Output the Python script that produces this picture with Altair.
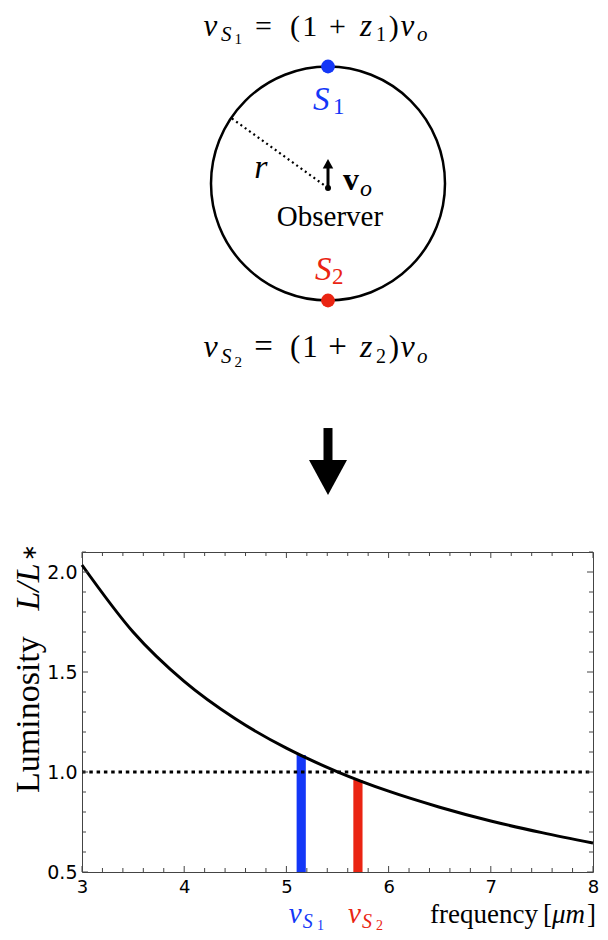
import altair as alt
import pandas as pd

# ---------------- chart data ----------------
freq = [3.0, 3.5, 4.0, 4.5, 5.0, 5.5, 6.0, 6.5, 7.0, 7.5, 8.0]
lum = [2.035, 1.70, 1.453, 1.266, 1.119, 1.001, 0.904, 0.824, 0.755, 0.697, 0.645]
ref_level = [1.0]
band_names = ["S1", "S2"]
band_lo = [5.10, 5.655]
band_hi = [5.19, 5.745]
band_top = [1.085, 0.96]
BLUE = "#1437f7"
RED = "#ea2412"
band_colors = [BLUE, RED]

x_major = [3, 4, 5, 6, 7, 8]
x_minor = [3.2, 3.4, 3.6, 3.8, 4.2, 4.4, 4.6, 4.8, 5.2, 5.4, 5.6, 5.8,
           6.2, 6.4, 6.6, 6.8, 7.2, 7.4, 7.6, 7.8]
y_major = [0.5, 1.0, 1.5, 2.0]
y_minor = [0.6, 0.7, 0.8, 0.9, 1.1, 1.2, 1.3, 1.4, 1.6, 1.7, 1.8, 1.9, 2.1]

X_DOM = [3, 8]
Y_DOM = [0.5, 2.1]
W, H = 511, 320
PAD_L, PAD_T = 74, 544

X = alt.Scale(domain=X_DOM, nice=False, zero=False)
Y = alt.Scale(domain=Y_DOM, nice=False, zero=False)

xaxis = alt.Axis(values=x_major, format="d", title=None, ticks=False, tickSize=0,
                 domain=False, grid=False, labelFont="DejaVu Sans",
                 labelFontSize=18, labelColor="black", labelPadding=6,
                 labelFlush=False)
yaxis = alt.Axis(values=y_major, format=".1f", title=None, ticks=False, tickSize=0,
                 domain=False, grid=False, labelFont="DejaVu Sans",
                 labelFontSize=19, labelColor="black", labelPadding=5)

df_curve = pd.DataFrame({"f": freq, "L": lum})
df_bands = pd.DataFrame({"name": band_names, "lo": band_lo, "hi": band_hi,
                         "top": band_top, "color": band_colors})
df_ref = pd.DataFrame({"y": ref_level, "x0": [X_DOM[0]], "x1": [X_DOM[1]]})

# inward frame ticks
px_x = (X_DOM[1] - X_DOM[0]) / W
px_y = (Y_DOM[1] - Y_DOM[0]) / H
rows = []
for t in x_major:
    rows.append({"x": t, "y": Y_DOM[0], "y2": Y_DOM[0] + 6 * px_y})
    rows.append({"x": t, "y": Y_DOM[1], "y2": Y_DOM[1] - 6 * px_y})
for t in x_minor:
    rows.append({"x": t, "y": Y_DOM[0], "y2": Y_DOM[0] + 4 * px_y})
    rows.append({"x": t, "y": Y_DOM[1], "y2": Y_DOM[1] - 4 * px_y})
df_xt = pd.DataFrame(rows)
rows = []
for t in y_major:
    rows.append({"y": t, "x": X_DOM[0], "x2": X_DOM[0] + 6 * px_x})
    rows.append({"y": t, "x": X_DOM[1], "x2": X_DOM[1] - 6 * px_x})
for t in y_minor:
    rows.append({"y": t, "x": X_DOM[0], "x2": X_DOM[0] + 4 * px_x})
    rows.append({"y": t, "x": X_DOM[1], "x2": X_DOM[1] - 4 * px_x})
df_yt = pd.DataFrame(rows)

bars = alt.Chart(df_bands).mark_bar(opacity=1).encode(
    x=alt.X("lo:Q", scale=X, axis=xaxis), x2="hi:Q",
    y=alt.Y("top:Q", scale=Y, axis=yaxis), y2=alt.datum(Y_DOM[0]),
    color=alt.Color("color:N", scale=None),
)
ref = alt.Chart(df_ref).mark_rule(color="black", strokeWidth=3.2,
                                  strokeDash=[3.5, 3.8]).encode(
    x=alt.X("x0:Q", scale=X, axis=xaxis), x2="x1:Q",
    y=alt.Y("y:Q", scale=Y, axis=yaxis),
)
curve = alt.Chart(df_curve).mark_line(color="black", strokeWidth=3,
                                      interpolate="monotone").encode(
    x=alt.X("f:Q", scale=X, axis=xaxis),
    y=alt.Y("L:Q", scale=Y, axis=yaxis),
)
xt = alt.Chart(df_xt).mark_rule(color="#444", strokeWidth=1).encode(
    x=alt.X("x:Q", scale=X, axis=xaxis),
    y=alt.Y("y:Q", scale=Y, axis=yaxis), y2="y2:Q",
)
yt = alt.Chart(df_yt).mark_rule(color="#444", strokeWidth=1).encode(
    x=alt.X("x:Q", scale=X, axis=xaxis), x2="x2:Q",
    y=alt.Y("y:Q", scale=Y, axis=yaxis),
)
plot = alt.layer(bars, ref, curve, xt, yt)

# ---------------- schematic (unit circle coordinates, radius = 1) ----------------
R_PX = 117
CX = 328 - 8 - PAD_L
CY = 183.5 - 8 - PAD_T
DX = alt.Scale(domain=[-1, 1], range=[CX - R_PX, CX + R_PX], nice=False, zero=False)
DY = alt.Scale(domain=[-1, 1], range=[CY + R_PX, CY - R_PX], nice=False, zero=False)


def enc(ch, **kw):
    return ch.encode(x=alt.X("u:Q", scale=DX, axis=None),
                     y=alt.Y("v:Q", scale=DY, axis=None), **kw)


ring = enc(alt.Chart(pd.DataFrame({"u": [0.0], "v": [0.0]})).mark_point(
    shape="circle", size=(2 * R_PX) ** 2, filled=False, color="black",
    strokeWidth=2.5, opacity=1))

src_u = [0.0, 0.0]
src_v = [1.0, -1.0]
sources = enc(alt.Chart(pd.DataFrame({"u": src_u, "v": src_v,
                                      "c": [BLUE, RED]})).mark_point(
    shape="circle", size=190, filled=True, opacity=1, strokeWidth=0),
    color=alt.Color("c:N", scale=None))

obs_u, obs_v = [0.0], [-0.038]
observer = enc(alt.Chart(pd.DataFrame({"u": obs_u, "v": obs_v})).mark_point(
    shape="circle", size=36, filled=True, color="black", opacity=1, strokeWidth=0))

radius = alt.Chart(pd.DataFrame({"u": obs_u, "v": obs_v, "u2": [-0.823],
                                 "v2": [0.557]})).mark_rule(
    color="black", strokeWidth=2.2, strokeDash=[2, 3.3]).encode(
    x=alt.X("u:Q", scale=DX, axis=None), x2="u2:Q",
    y=alt.Y("v:Q", scale=DY, axis=None), y2="v2:Q")

vel_shaft = alt.Chart(pd.DataFrame({"u": [0.0], "v": obs_v, "v2": [0.15]})).mark_rule(
    color="black", strokeWidth=3).encode(
    x=alt.X("u:Q", scale=DX, axis=None),
    y=alt.Y("v:Q", scale=DY, axis=None), y2="v2:Q")
vel_head = enc(alt.Chart(pd.DataFrame({"u": [0.0], "v": [0.169]})).mark_point(
    shape="M-1,0.9L1,0.9L0,-0.9Z", size=110, filled=True, color="black",
    opacity=1, strokeWidth=0))

big_shaft = alt.Chart(pd.DataFrame({"u": [0.0], "v": [-2.09], "v2": [-2.40]})).mark_rule(
    color="black", strokeWidth=9, strokeCap="butt").encode(
    x=alt.X("u:Q", scale=DX, axis=None),
    y=alt.Y("v:Q", scale=DY, axis=None), y2="v2:Q")
big_head = enc(alt.Chart(pd.DataFrame({"u": [0.0], "v": [-2.513]})).mark_point(
    shape="M-1,-0.92L1,-0.92L0,0.92Z", size=38 ** 2, filled=True, color="black",
    opacity=1, strokeWidth=0))

# text pieces: (text, u, v, size, style, color, align, angle)
K = "black"
top_m, top_s, top_ss = 1.261, 1.218, 1.192
bot_m, bot_s, bot_ss = -1.483, -1.534, -1.568
pieces = []
for (m, s, ss, d, sz, op) in [(top_m, top_s, top_ss, "1", 30, 30),
                              (bot_m, bot_s, bot_ss, "2", 31, 33)]:
    pieces += [
        ("ν", -1.065, m, sz + 1, "italic", K, "left", 0),
        ("S", -0.915, s, 21, "italic", K, "left", 0),
        (d, -0.800, ss, 15, "normal", K, "left", 0),
        ("=", -0.551, m, op, "normal", K, "center", 0),
        ("(", -0.325, m, sz, "normal", K, "left", 0),
        ("1", -0.220, m, sz, "normal", K, "left", 0),
        ("+", 0.081, m, op, "normal", K, "center", 0),
        ("z", 0.274, m, sz + 1, "italic", K, "left", 0),
        (d, 0.410, s, 20, "normal", K, "left", 0),
        (")", 0.520, m, sz, "normal", K, "left", 0),
        ("ν", 0.620, m, sz + 1, "italic", K, "left", 0),
        ("o", 0.760, s, 21, "italic", K, "left", 0),
    ]
bl_m, bl_s, bl_ss = -6.320, -6.363, -6.380
pieces += [
    ("S", -0.128, 0.628, 33, "italic", BLUE, "left", 0),
    ("1", 0.043, 0.594, 23, "normal", BLUE, "left", 0),
    ("S", -0.111, -0.825, 33, "italic", RED, "left", 0),
    ("2", 0.034, -0.859, 23, "normal", RED, "left", 0),
    ("r", -0.573, 0.047, 34, "italic", K, "center", 0),
    ("o", 0.274, -0.107, 24, "italic", K, "left", 0),
    ("Observer", 0.017, -0.363, 29, "normal", K, "center", 0),
    ("ν", -0.335, bl_m, 29, "italic", BLUE, "left", 0),
    ("S", -0.215, bl_s, 20, "italic", BLUE, "left", 0),
    ("1", -0.095, bl_ss, 14, "normal", BLUE, "left", 0),
    ("ν", 0.170, bl_m, 29, "italic", RED, "left", 0),
    ("S", 0.290, bl_s, 20, "italic", RED, "left", 0),
    ("2", 0.410, bl_ss, 14, "normal", RED, "left", 0),
    ("frequency", 0.872, bl_m, 27, "normal", K, "left", 0),
    ("[", 1.838, bl_m, 27, "normal", K, "left", 0),
    ("μm", 1.915, bl_m, 27, "italic", K, "left", 0),
    ("]", 2.214, bl_m, 27, "normal", K, "left", 0),
    ("Luminosity", -2.470, -5.209, 34, "normal", K, "left", 270),
    ("L/L", -2.470, -3.650, 34, "italic", K, "left", 270),
    ("∗", -2.500, -3.230, 20, "normal", K, "left", 270),
]
df_t = pd.DataFrame(pieces, columns=["t", "u", "v", "s", "style", "c", "align", "angle"])

text_layers = []
for (style, align, angle), g in df_t.groupby(["style", "align", "angle"]):
    text_layers.append(enc(
        alt.Chart(g.reset_index(drop=True)).mark_text(
            font="Liberation Serif", fontStyle=style, align=align,
            baseline="alphabetic", angle=int(angle)),
        text="t:N", size=alt.Size("s:Q", scale=None),
        color=alt.Color("c:N", scale=None)))

vbold = enc(alt.Chart(pd.DataFrame({"t": ["v"], "u": [0.128], "v": [-0.056]})).mark_text(
    font="Liberation Serif", fontWeight="bold", fontSize=32, align="left",
    baseline="alphabetic", color="black"), text="t:N")

diagram = alt.layer(ring, radius, vel_shaft, vel_head, observer, sources,
                    big_shaft, big_head, vbold, *text_layers)

chart = alt.layer(plot, diagram).resolve_scale(
    x="independent", y="independent"
).properties(
    width=W, height=H,
    autosize=alt.AutoSizeParams(type="none"),
    padding={"left": PAD_L, "top": PAD_T, "right": 7, "bottom": 60},
).configure_view(stroke="#444", strokeWidth=1)

chart.save("out.html", embed_options={"renderer": "svg", "actions": False})
